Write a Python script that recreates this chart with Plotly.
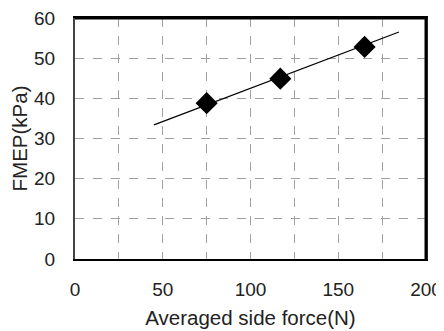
import plotly.graph_objects as go

# Data
side_force = [75, 117, 165]
fmep = [38.8, 44.9, 52.8]
trend_x = [45, 184.6]
trend_y = [33.4, 56.5]

x_ticks = [0, 50, 100, 150, 200]
y_ticks = [0, 10, 20, 30, 40, 50, 60]

font_family = "Liberation Sans, Arial, sans-serif"

fig = go.Figure()
fig.add_trace(go.Scatter(x=trend_x, y=trend_y, mode="lines",
                         line=dict(color="black", width=1.2), showlegend=False))
fig.add_trace(go.Scatter(x=side_force, y=fmep, mode="markers",
                         marker=dict(symbol="diamond", size=17, color="black"),
                         showlegend=False))

grid_style = dict(gridcolor="#a0a0a0", griddash="dash", gridwidth=1)

fig.update_xaxes(range=[0, 200], tickvals=x_ticks, showgrid=True, **grid_style,
                 minor=dict(dtick=25, showgrid=True, gridcolor="#a0a0a0", griddash="dash", gridwidth=1),
                 showline=True, linecolor="black", linewidth=2, mirror=True,
                 ticks="", ticklabelstandoff=12, zeroline=False, automargin=False,
                 ticklabeloverflow="allow",
                 title=dict(text="Averaged side force(N)", standoff=12,
                            font=dict(size=20.5, color="#222")),
                 tickfont=dict(size=19, color="#222"))
fig.update_yaxes(range=[0, 60], tickvals=y_ticks, showgrid=True, **grid_style,
                 showline=True, linecolor="#444", linewidth=2, mirror=True,
                 ticks="", ticklabelstandoff=14, zeroline=False, automargin=False,
                 ticklabeloverflow="allow",
                 title=dict(text="FMEP(kPa)", standoff=6,
                            font=dict(size=20.5, color="#222")),
                 tickfont=dict(size=19, color="#222"))

# thicker top and right frame
fig.add_shape(type="line", xref="paper", yref="paper", x0=0, x1=1, y0=1, y1=1,
              line=dict(color="black", width=3))
fig.add_shape(type="line", xref="paper", yref="paper", x0=1, x1=1, y0=0, y1=1,
              line=dict(color="black", width=3))

# the page body adds an 8px offset, so the figure is sized to fit the remaining window
fig.update_layout(width=436, height=323,
                  margin=dict(l=67, r=18, t=10, b=72),
                  paper_bgcolor="white", plot_bgcolor="white",
                  font=dict(family=font_family, size=19, color="#222"))

fig.write_html("out.html")
